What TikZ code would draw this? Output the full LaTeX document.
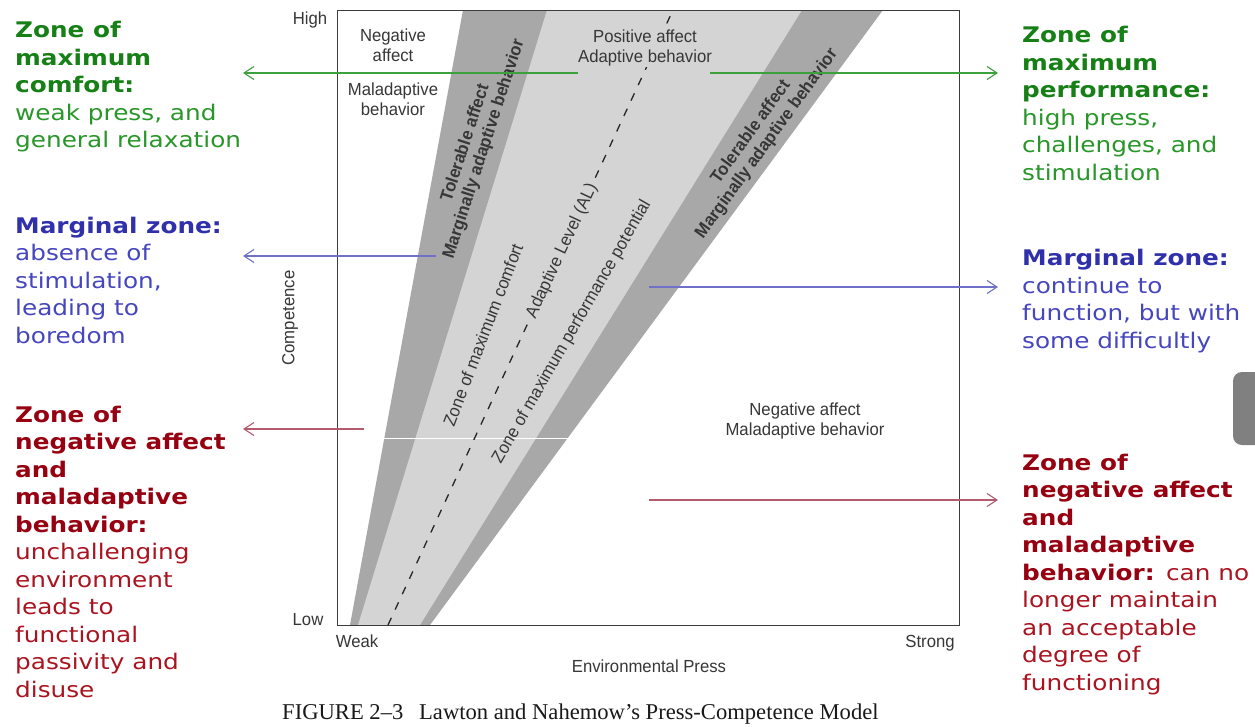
\documentclass[tikz,border=0pt]{standalone}
\usepackage{fontspec}
\setmainfont{Liberation Serif}
\newfontfamily\zonefont[FakeStretch=1.15]{DejaVu Sans}
\newfontfamily\plotfont[FakeStretch=0.955]{Liberation Sans}
\usetikzlibrary{arrows.meta}

\definecolor{bandlight}{RGB}{212,212,212}
\definecolor{banddark}{RGB}{168,168,168}
\definecolor{boxgray}{RGB}{60,60,60}
\definecolor{plotink}{RGB}{55,55,55}
\definecolor{greenhead}{RGB}{22,128,22}
\definecolor{greenbody}{RGB}{40,150,40}
\definecolor{bluehead}{RGB}{48,48,170}
\definecolor{bluebody}{RGB}{70,70,190}
\definecolor{redhead}{RGB}{150,0,16}
\definecolor{redbody}{RGB}{170,20,32}
\definecolor{greenline}{RGB}{60,160,60}
\definecolor{blueline}{RGB}{112,112,200}
\definecolor{redline}{RGB}{180,90,110}
\definecolor{tabgray}{RGB}{128,128,128}

\tikzset{
  plotlabel/.style={font=\plotfont\fontsize{17.5}{19.5}\selectfont, text=plotink,
    inner sep=0pt, align=center},
  bandlabel/.style={plotlabel, font=\plotfont\bfseries\fontsize{17.5}{19.5}\selectfont},
  zonetext/.style={font=\zonefont\fontsize{21.5}{27.5}\selectfont, inner sep=0pt,
    align=left, anchor=base west},
  pointer/.style={line width=1.1pt, -{Straight Barb[length=10pt,width=13pt,line width=1.1pt]}},
  gpointer/.style={pointer, draw=greenline},
  bpointer/.style={pointer, draw=blueline},
  rpointer/.style={pointer, draw=redline},
  alline/.style={draw=black!85, line width=1.3pt, dash pattern=on 8pt off 9pt}
}

\begin{document}
\begin{tikzpicture}[x=1pt,y=-1pt]
\useasboundingbox (0,0) rectangle (1255,726);
\fill[white] (0,0) rectangle (1255,726);

% adaptation wedge: marginal outer bands and the central light zone
\fill[banddark] (350,625) -- (463,10) -- (883,10) -- (430,625) -- cycle;
\fill[bandlight] (358,625) -- (547,10) -- (802,10) -- (420,625) -- cycle;
\draw[white, line width=1pt] (384,438) -- (569,438);

% adaptation level line
\coordinate (alLow) at (388,625);
\coordinate (alHigh) at (673,10);
\draw[alline] (alLow) -- (alHigh);

% plot frame
\node (frame) [draw=boxgray, line width=1.3pt, minimum width=622pt, minimum height=615pt,
  inner sep=0pt, anchor=north west] at (337,10) {};

% axis labels
\node[plotlabel, anchor=base] (high) at (310,24) {High};
\node[plotlabel, anchor=base] (low) at (308,625) {Low};
\node[plotlabel, anchor=base] (weak) at (357,647) {Weak};
\node[plotlabel, anchor=base] (strong) at (930,647) {Strong};
\node[plotlabel, anchor=base] (xaxis) at (649,672) {Environmental Press};
\node[plotlabel, rotate=90] (yaxis) at (290,318) {Competence};

% region labels (base = baseline of the last line)
\node[plotlabel, anchor=base] (negA) at (393,61) {Negative\\affect};
\node[plotlabel, anchor=base] (malA) at (393,115) {Maladaptive\\behavior};
\node[plotlabel, anchor=base, fill=bandlight, inner sep=1pt] (posA) at (645,62) {Positive affect\\Adaptive behavior};
\node[plotlabel, anchor=base] (negB) at (805,435) {Negative affect\\Maladaptive behavior};

% labels along the wedge
\node[bandlabel, rotate=72] (tolL) at (475,146) {Tolerable affect\\Marginally adaptive behavior};
\node[bandlabel, rotate=54] (tolR) at (759,138) {Tolerable affect\\Marginally adaptive behavior};
\node[plotlabel, rotate=69] (comfort) at (483,335) {Zone of maximum comfort};
\node[plotlabel, rotate=65, fill=bandlight, inner sep=3pt] (al) at (562,251) {Adaptive Level (AL)};
\node[plotlabel, rotate=60] (perf) at (572,332) {Zone of maximum performance potential};

% caption
\node[font=\fontsize{22.6}{26}\selectfont, text=black!90, inner sep=0pt, anchor=base west]
  (caption) at (282,719) {FIGURE 2--3\hspace{0.45em} Lawton and Nahemow's Press-Competence Model};

% explanatory notes, left (base = baseline of the last line)
\node[zonetext] (noteGL) at (15,147.5) {\color{greenhead}\bfseries Zone of\\\color{greenhead}\bfseries maximum\\\color{greenhead}\bfseries comfort:\\\color{greenbody}weak press, and\\\color{greenbody}general relaxation};
\node[zonetext] (noteBL) at (15,343) {\color{bluehead}\bfseries Marginal zone:\\\color{bluebody}absence of\\\color{bluebody}stimulation,\\\color{bluebody}leading to\\\color{bluebody}boredom};
\node[zonetext] (noteRL) at (15,697) {\color{redhead}\bfseries Zone of\\\color{redhead}\bfseries negative affect\\\color{redhead}\bfseries and\\\color{redhead}\bfseries maladaptive\\\color{redhead}\bfseries behavior:\\\color{redbody}unchallenging\\\color{redbody}environment\\\color{redbody}leads to\\\color{redbody}functional\\\color{redbody}passivity and\\\color{redbody}disuse};

% explanatory notes, right
\node[zonetext] (noteGR) at (1022,180) {\color{greenhead}\bfseries Zone of\\\color{greenhead}\bfseries maximum\\\color{greenhead}\bfseries performance:\\\color{greenbody}high press,\\\color{greenbody}challenges, and\\\color{greenbody}stimulation};
\node[zonetext] (noteBR) at (1022,348) {\color{bluehead}\bfseries Marginal zone:\\\color{bluebody}continue to\\\color{bluebody}function, but with\\\color{bluebody}some difficultly};
\node[zonetext] (noteRR) at (1022,690) {\color{redhead}\bfseries Zone of\\\color{redhead}\bfseries negative affect\\\color{redhead}\bfseries and\\\color{redhead}\bfseries maladaptive\\\color{redhead}\bfseries behavior: \color{redbody}\mdseries can no\\\color{redbody}longer maintain\\\color{redbody}an acceptable\\\color{redbody}degree of\\\color{redbody}functioning};

% pointers from the zones to the notes
\coordinate (gLs) at (578,73);  \coordinate (gLe) at (243,73);
\coordinate (gRs) at (710,73);  \coordinate (gRe) at (998,73);
\coordinate (bLs) at (436,256); \coordinate (bLe) at (243,256);
\coordinate (bRs) at (649,287); \coordinate (bRe) at (998,287);
\coordinate (rLs) at (364,429); \coordinate (rLe) at (243,429);
\coordinate (rRs) at (649,500); \coordinate (rRe) at (998,500);
\draw[gpointer] (gLs) -- (gLe);
\draw[gpointer] (gRs) -- (gRe);
\draw[bpointer] (bLs) -- (bLe);
\draw[bpointer] (bRs) -- (bRe);
\draw[rpointer] (rLs) -- (rLe);
\draw[rpointer] (rRs) -- (rRe);

% side tab
\fill[tabgray, rounded corners=9pt] (1233,372) rectangle (1275,445);
\end{tikzpicture}
\end{document}
